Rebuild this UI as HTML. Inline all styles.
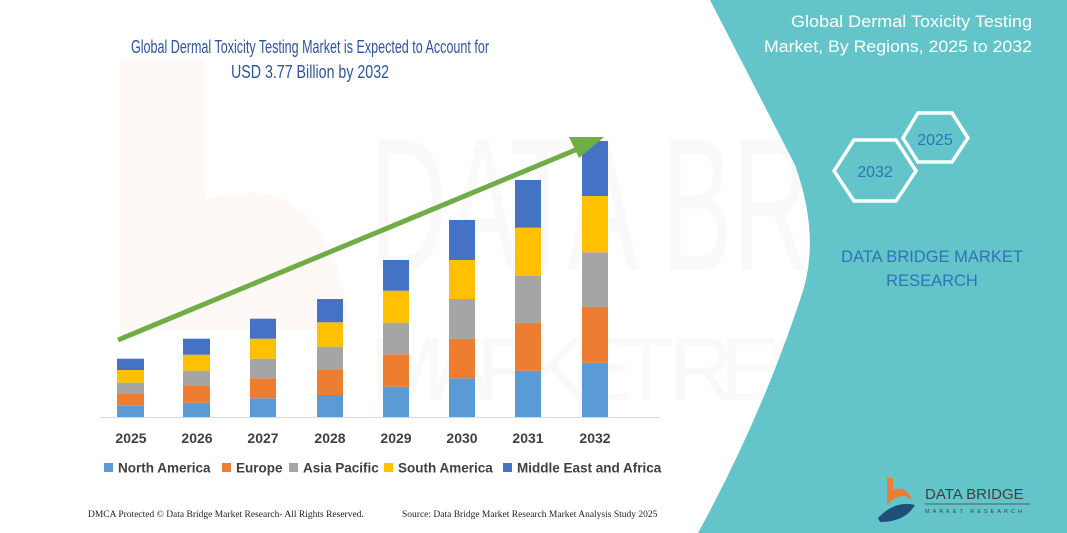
<!DOCTYPE html>
<html><head><meta charset="utf-8"><style>
html,body{margin:0;padding:0;background:#fff;}
body{width:1067px;height:533px;position:relative;overflow:hidden;font-family:"Liberation Sans",sans-serif;}
</style></head><body>
<svg width="1067" height="533" viewBox="0 0 1067 533" style="position:absolute;left:0;top:0">
<g opacity="0.03">
<text x="370" y="270" font-size="190" fill="#555" font-family="Liberation Sans" textLength="700" lengthAdjust="spacingAndGlyphs">DATA BRIDGE</text>
<text x="370" y="400" font-size="90" fill="#555" font-family="Liberation Sans" textLength="700" lengthAdjust="spacing">MARKET RESEARCH</text>
</g>
<path d="M120 60 L205 60 L205 200 Q330 160 350 330 L120 330 Z" fill="#f4a070" opacity="0.06"/>
<path d="M710 0 L1067 0 L1067 533 L698 533 Q760 420 800 300 Q822 240 795 165 Z" fill="#63c4c9"/>
<text x="310" y="53" text-anchor="middle" font-size="18" fill="#2f5597" textLength="358" lengthAdjust="spacingAndGlyphs">Global Dermal Toxicity Testing Market is Expected to Account for</text>
<text x="310" y="78" text-anchor="middle" font-size="18" fill="#2f5597" textLength="158" lengthAdjust="spacingAndGlyphs">USD 3.77 Billion by 2032</text>
<line x1="100" y1="417.5" x2="660" y2="417.5" stroke="#d9d9d9" stroke-width="1"/>
<g>
<rect x="117" y="405.7" width="27" height="11.3" fill="#5b9bd5"/><rect x="117" y="394" width="27" height="11.7" fill="#ed7d31"/><rect x="117" y="382.7" width="27" height="11.3" fill="#a5a5a5"/><rect x="117" y="370" width="27" height="12.7" fill="#ffc000"/><rect x="117" y="358.7" width="27" height="11.3" fill="#4472c4"/>
<rect x="183" y="402.7" width="27" height="14.3" fill="#5b9bd5"/><rect x="183" y="386" width="27" height="16.7" fill="#ed7d31"/><rect x="183" y="370.7" width="27" height="15.3" fill="#a5a5a5"/><rect x="183" y="354.7" width="27" height="16" fill="#ffc000"/><rect x="183" y="338.7" width="27" height="16" fill="#4472c4"/>
<rect x="250" y="398.3" width="26" height="18.7" fill="#5b9bd5"/><rect x="250" y="378.3" width="26" height="20" fill="#ed7d31"/><rect x="250" y="358.7" width="26" height="19.6" fill="#a5a5a5"/><rect x="250" y="338.7" width="26" height="20" fill="#ffc000"/><rect x="250" y="318.7" width="26" height="20" fill="#4472c4"/>
<rect x="317" y="395" width="26" height="22" fill="#5b9bd5"/><rect x="317" y="370" width="26" height="25" fill="#ed7d31"/><rect x="317" y="346.7" width="26" height="23.3" fill="#a5a5a5"/><rect x="317" y="322.3" width="26" height="24.4" fill="#ffc000"/><rect x="317" y="299" width="26" height="23.3" fill="#4472c4"/>
<rect x="383" y="386.7" width="26" height="30.3" fill="#5b9bd5"/><rect x="383" y="354.3" width="26" height="32.4" fill="#ed7d31"/><rect x="383" y="322.7" width="26" height="31.6" fill="#a5a5a5"/><rect x="383" y="290.7" width="26" height="32" fill="#ffc000"/><rect x="383" y="260" width="26" height="30.7" fill="#4472c4"/>
<rect x="449" y="378.3" width="26" height="38.7" fill="#5b9bd5"/><rect x="449" y="338.7" width="26" height="39.6" fill="#ed7d31"/><rect x="449" y="299" width="26" height="39.7" fill="#a5a5a5"/><rect x="449" y="260" width="26" height="39" fill="#ffc000"/><rect x="449" y="220" width="26" height="40" fill="#4472c4"/>
<rect x="515" y="370.7" width="26" height="46.3" fill="#5b9bd5"/><rect x="515" y="322.7" width="26" height="48" fill="#ed7d31"/><rect x="515" y="275.7" width="26" height="47" fill="#a5a5a5"/><rect x="515" y="227.7" width="26" height="48" fill="#ffc000"/><rect x="515" y="180" width="26" height="47.7" fill="#4472c4"/>
<rect x="582" y="362.7" width="26" height="54.3" fill="#5b9bd5"/><rect x="582" y="306.7" width="26" height="56" fill="#ed7d31"/><rect x="582" y="252.3" width="26" height="54.4" fill="#a5a5a5"/><rect x="582" y="196" width="26" height="56.3" fill="#ffc000"/><rect x="582" y="141" width="26" height="55" fill="#4472c4"/>
</g>
<line x1="118" y1="340" x2="585" y2="146" stroke="#70ad47" stroke-width="5"/>
<polygon points="569,137 604,137 579,158" fill="#70ad47"/>
<g font-size="14" font-weight="bold" fill="#404040" text-anchor="middle">
<text x="131" y="443">2025</text><text x="197" y="443">2026</text><text x="263" y="443">2027</text><text x="330" y="443">2028</text><text x="396" y="443">2029</text><text x="462" y="443">2030</text><text x="528" y="443">2031</text><text x="595" y="443">2032</text>
</g>
<g font-size="13.5" font-weight="bold" fill="#404040">
<rect x="104" y="463" width="9" height="9" fill="#5b9bd5"/><text x="118" y="472.5">North America</text>
<rect x="222" y="463" width="9" height="9" fill="#ed7d31"/><text x="236" y="472.5">Europe</text>
<rect x="289" y="463" width="9" height="9" fill="#a5a5a5"/><text x="303" y="472.5">Asia Pacific</text>
<rect x="384" y="463" width="9" height="9" fill="#ffc000"/><text x="398" y="472.5">South America</text>
<rect x="503" y="463" width="9" height="9" fill="#4472c4"/><text x="517" y="472.5">Middle East and Africa</text>
</g>
<g font-family="Liberation Serif" font-size="9.5" fill="#222">
<text x="88" y="517">DMCA Protected © Data Bridge Market Research-  All Rights Reserved.</text>
<text x="402" y="517">Source: Data Bridge Market Research  Market Analysis Study 2025</text>
</g>
<g font-size="17" fill="#fff" text-anchor="end">
<text x="1032" y="27" textLength="241" lengthAdjust="spacingAndGlyphs">Global Dermal Toxicity Testing</text>
<text x="1032" y="52" textLength="268" lengthAdjust="spacingAndGlyphs">Market, By Regions, 2025 to 2032</text>
</g>
<polygon points="903,138 918,113 952,113 968,138 952,162 918,162" fill="none" stroke="#fff" stroke-width="3.5"/>
<polygon points="834,171 854,140 896,140 916,171 896,201 854,201" fill="none" stroke="#fff" stroke-width="3.5"/>
<text x="935" y="145" text-anchor="middle" font-size="16" fill="#2e75b6">2025</text>
<text x="875" y="177" text-anchor="middle" font-size="16" fill="#2e75b6">2032</text>
<g font-size="16.5" fill="#2e75b6" text-anchor="middle">
<text x="932" y="262">DATA BRIDGE MARKET</text>
<text x="932" y="286">RESEARCH</text>
</g>
<path d="M887 478 L887 505 Q900 490 912 500 Q906 485 893 490 L893 478 Z" fill="#ed7d31"/>
<path d="M878 518 Q895 500 915 505 Q905 522 880 522 Z" fill="#1f4e79"/>
<text x="925" y="499" font-size="15" fill="#404040">DATA BRIDGE</text>
<line x1="925" y1="504" x2="1030" y2="504" stroke="#404040" stroke-width="0.7"/>
<text x="925" y="513" font-size="5.5" fill="#404040" letter-spacing="3">MARKET RESEARCH</text>
</svg>
</body></html>
